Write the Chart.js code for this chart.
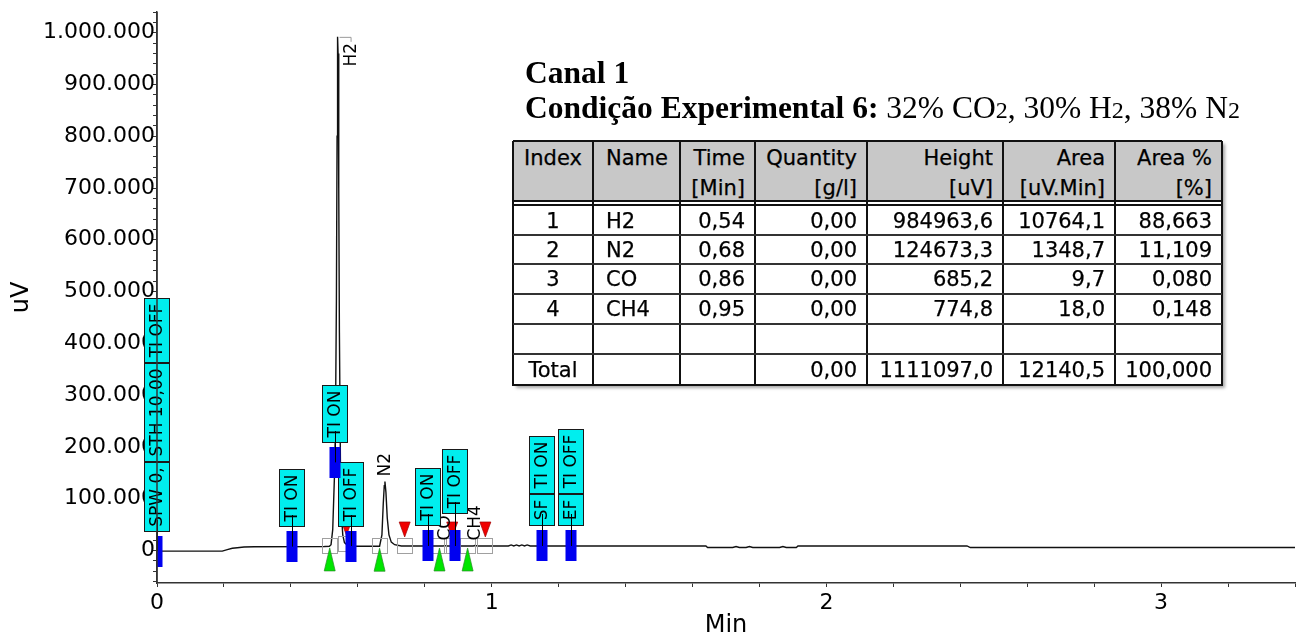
<!DOCTYPE html>
<html><head><meta charset="utf-8">
<script src="https://cdn.jsdelivr.net/npm/chart.js@4.4.0/dist/chart.umd.min.js"></script>
<style>
html,body{margin:0;padding:0;background:#fff;}
#wrap{position:relative;width:1298px;height:639px;overflow:hidden;background:#fff;}
#c{position:absolute;left:0;top:0;}
.ttl{position:absolute;left:525px;font-family:"Liberation Serif","Times New Roman",serif;font-size:31.5px;line-height:31px;white-space:nowrap;color:#000;}
.ttl .sub{font-size:24px;}
.cell{position:absolute;box-sizing:border-box;font-family:"DejaVu Sans",sans-serif;font-size:21px;white-space:nowrap;color:#000;overflow:hidden;-webkit-text-stroke:0.25px #000;}
.ln{position:absolute;background:#111;}
</style></head><body>
<div id="wrap">
<canvas id="c" width="1298" height="639"></canvas>
<div class="ttl" style="top:57px;font-weight:bold">Canal 1</div>
<div class="ttl" style="top:92px"><b>Condição Experimental 6:</b> 32% CO<span class="sub">2</span>, 30% H<span class="sub">2</span>, 38% N<span class="sub">2</span></div>
<div id="tbl"></div>
</div>
<script>
// ---------------- DATA ----------------
// chromatogram trace (time in min, signal in uV)
const traceTime = [0, 0.195, 0.21, 0.225, 0.24, 0.26, 0.29, 0.50, 0.515, 0.52, 0.525, 0.53, 0.533, 0.536, 0.538, 0.5395, 0.541, 0.543, 0.545, 0.548, 0.551, 0.555, 0.56, 0.57, 0.585,
  0.665, 0.672, 0.676, 0.679, 0.681, 0.684, 0.688, 0.693, 0.70, 0.71, 0.73,
  0.855, 0.86, 0.867, 0.945, 0.95, 0.958,
  1.05, 1.058, 1.066, 1.074, 1.082, 1.09, 1.098, 1.106, 1.115,
  1.64, 1.645, 1.72, 1.73, 1.74, 1.76, 1.77, 1.78, 1.86, 1.87, 1.88, 1.91, 1.915, 2.42, 2.43, 3.4];
const traceUV = [-1500, -1500, 1500, 4000, 5000, 6500, 7000, 7500, 8000, 11000, 40000, 140000, 230000, 480000, 800000, 992000, 960000, 700000, 420000, 170000, 70000, 30000, 15000, 9500, 8000,
  8000, 30000, 90000, 125000, 133000, 112000, 62000, 30000, 16000, 11000, 8500,
  8500, 9200, 8500, 8500, 9300, 8500,
  8500, 10500, 8500, 10500, 8500, 10500, 8500, 10500, 8500,
  8500, 5500, 5500, 7500, 5500, 5500, 7500, 5500, 5500, 7500, 5500, 5500, 8500, 8500, 5500, 5500];

// integrated peaks
const peakNames = ['H2', 'N2', 'CO', 'CH4'];
const peakTimes = [0.54, 0.68, 0.86, 0.95];
const peakStart = [0.516, 0.665, 0.844, 0.928];
const peakEnd = [0.566, 0.740, 0.882, 0.981];
const peakQuantity = [0.00, 0.00, 0.00, 0.00];
const peakHeight = [984963.6, 124673.3, 685.2, 774.8];
const peakArea = [10764.1, 1348.7, 9.7, 18.0];
const peakAreaPct = [88.663, 11.109, 0.080, 0.148];
const totalRow = {quantity: 0.00, height: 1111097.0, area: 12140.5, areaPct: 100.000};
const tableHeaders = [['Index'], ['Name'], ['Time', '[Min]'], ['Quantity', '[g/l]'], ['Height', '[uV]'], ['Area', '[uV.Min]'], ['Area %', '[%]']];

// integration events
const eventTimes = [0, 0.402, 0.531, 0.581, 0.809, 0.890, 1.150, 1.238];
const eventLabels = [['SPW 0,', 'STH 10,00', 'TI OFF'], ['TI ON'], ['TI ON'], ['TI OFF'], ['TI ON'], ['TI OFF'], ['SF', 'TI ON'], ['EF', 'TI OFF']];

// axis tick labels
const xTickLabels = ['0', '1', '2', '3'];
const yTickLabels = ['0', '100.000', '200.000', '300.000', '400.000', '500.000', '600.000', '700.000', '800.000', '900.000', '1.000.000'];

// ---------------- HELPERS ----------------
function sig(t) {
  for (let i = 1; i < traceTime.length; i++) {
    if (t <= traceTime[i]) {
      const t0 = traceTime[i - 1], t1 = traceTime[i];
      const f = (t - t0) / (t1 - t0);
      return traceUV[i - 1] + f * (traceUV[i] - traceUV[i - 1]);
    }
  }
  return traceUV[traceUV.length - 1];
}
const FONT = '"DejaVu Sans"';

const markerPlugin = {
  id: 'markers',
  afterDatasetsDraw(chart) {
    const {ctx, chartArea} = chart;
    const x = chart.scales.x, y = chart.scales.y;
    const px = t => x.getPixelForValue(t);
    const py = t => y.getPixelForValue(sig(t));
    ctx.save();
    // baseline squares
    ctx.strokeStyle = '#a0a0a0'; ctx.lineWidth = 1;
    peakStart.concat(peakEnd).forEach(t => {
      const X = Math.round(px(t)), Y = Math.round(py(t));
      ctx.strokeRect(X - 7.5, Y - 7.5, 15, 15);
    });
    // start triangles (green)
    peakStart.forEach(t => {
      const X = px(t), Y = py(t);
      ctx.beginPath(); ctx.moveTo(X, Y + 2); ctx.lineTo(X + 5.5, Y + 25); ctx.lineTo(X - 5.5, Y + 25); ctx.closePath();
      ctx.fillStyle = '#00e600'; ctx.fill(); ctx.strokeStyle = '#2a8a2a'; ctx.lineWidth = 0.7; ctx.stroke();
    });
    // end triangles (red)
    peakEnd.forEach(t => {
      const X = px(t), Y = py(t);
      ctx.beginPath(); ctx.moveTo(X - 5.5, Y - 24); ctx.lineTo(X + 5.5, Y - 24); ctx.lineTo(X, Y - 9); ctx.closePath();
      ctx.fillStyle = '#f00000'; ctx.fill(); ctx.strokeStyle = '#a00000'; ctx.lineWidth = 0.7; ctx.stroke();
    });
    // peak name labels
    ctx.font = '17px ' + FONT; ctx.fillStyle = '#000';
    peakNames.forEach((name, i) => {
      let best = -Infinity, bt = peakTimes[i];
      traceTime.forEach((t, j) => { if (t >= peakStart[i] && t <= peakEnd[i] && traceUV[j] > best) { best = traceUV[j]; bt = t; } });
      const ax = px(bt), ay = y.getPixelForValue(best);
      const w = ctx.measureText(name).width;
      let cx = ax, bottom = ay - 5;
      if (bottom - w < chartArea.top) {
        cx = ax + 13; bottom = ay + 6 + w;
        ctx.strokeStyle = '#9a9a9a'; ctx.lineWidth = 1;
        ctx.beginPath(); ctx.moveTo(ax + 2, ay + 0.5); ctx.lineTo(cx + 0.5, ay + 0.5); ctx.lineTo(cx + 0.5, ay + 5); ctx.stroke();
      }
      ctx.save(); ctx.translate(cx, bottom); ctx.rotate(-Math.PI / 2);
      ctx.textAlign = 'left'; ctx.textBaseline = 'middle'; ctx.fillText(name, 0, 1); ctx.restore();
    });
    // events
    let prev = null;
    const drawn = [];
    eventTimes.forEach((t, i) => {
      const X = Math.round(px(t)), Y = py(t);
      let bottom = Math.round(Y - 19.5);
      const left = X - 12.5, right = X + 12.5;
      const hs = eventLabels[i].map(l => Math.round(ctx.measureText(l).width + 11));
      const total = hs.reduce((a, b) => a + b, 0);
      if (prev && left < prev.right + 3 && bottom > prev.top && bottom - total < prev.bottom) bottom -= 12;
      let yb = bottom;
      eventLabels[i].forEach((l, k) => {
        const h = hs[k];
        ctx.fillStyle = '#00eeee'; ctx.fillRect(left, yb - h, 25, h);
        ctx.strokeStyle = '#1a1a1a'; ctx.lineWidth = 1; ctx.strokeRect(left, yb - h + 0.5, 25, h - 1);
        ctx.save(); ctx.translate(X + 1, yb - h / 2); ctx.rotate(-Math.PI / 2);
        ctx.fillStyle = '#000'; ctx.textAlign = 'center'; ctx.textBaseline = 'middle'; ctx.fillText(l, 0, 0); ctx.restore();
        yb -= h;
      });
      prev = {left, right, top: yb, bottom};
      drawn.push({X, Y, bottom});
    });
    // blue event bars (clipped to plot area) and event lines
    ctx.save();
    ctx.beginPath(); ctx.rect(chartArea.left, chartArea.top, chartArea.right - chartArea.left, chartArea.bottom - chartArea.top); ctx.clip();
    drawn.forEach(d => { ctx.fillStyle = '#0000f0'; ctx.fillRect(d.X - 5.5, Math.round(d.Y - 15.5), 11, 31); });
    ctx.restore();
    ctx.strokeStyle = '#000'; ctx.lineWidth = 1;
    drawn.forEach(d => { ctx.beginPath(); ctx.moveTo(d.X + 0.5, d.Y); ctx.lineTo(d.X + 0.5, d.bottom - 12); ctx.stroke(); });
    // y axis line on top
    ctx.strokeStyle = '#333'; ctx.lineWidth = 1.5;
    ctx.beginPath(); ctx.moveTo(chartArea.left, chartArea.top); ctx.lineTo(chartArea.left, chartArea.bottom); ctx.stroke();
    ctx.restore();
  }
};

new Chart(document.getElementById('c'), {
  type: 'line',
  data: {datasets: [{data: traceTime.map((t, i) => ({x: t, y: traceUV[i]})), borderColor: '#111', borderWidth: 1.4, pointRadius: 0, tension: 0, fill: false}]},
  options: {
    responsive: false, animation: false, devicePixelRatio: 1,
    layout: {padding: {top: 12, right: 1, left: 0, bottom: 0}},
    plugins: {legend: {display: false}, tooltip: {enabled: false}, title: {display: false}},
    scales: {
      x: {
        type: 'linear', min: 0, max: 3.4,
        afterBuildTicks: s => { const a = []; for (let k = 0; k <= 17; k++) a.push({value: Math.round(k * 0.2 * 1000) / 1000}); s.ticks = a; },
        afterFit: s => { s.height = 56; },
        ticks: {autoSkip: false, maxRotation: 0, color: '#000', padding: 3, font: {family: FONT, size: 22},
          callback: v => { const k = Math.round(v); return (Math.abs(v - k) < 1e-6 && k < xTickLabels.length) ? xTickLabels[k] : ''; }},
        grid: {drawOnChartArea: false, drawTicks: true, tickLength: 4, color: '#333'},
        border: {display: true, color: '#333', width: 1.5},
        title: {display: true, text: 'Min', color: '#000', font: {family: FONT, size: 24, lineHeight: 1}, padding: {top: 0, bottom: 1}}
      },
      y: {
        type: 'linear', min: -63000, max: 1040000,
        afterBuildTicks: s => { const a = []; for (let v = -60000; v <= 1040000; v += 20000) a.push({value: v}); s.ticks = a; },
        afterFit: s => { s.width = 157; },
        ticks: {autoSkip: false, color: '#000', padding: -2, font: {family: FONT, size: 22},
          callback: v => { const k = Math.round(v / 100000); return (Math.abs(v - k * 100000) < 1 && k >= 0 && k < yTickLabels.length) ? yTickLabels[k] : ''; }},
        grid: {drawOnChartArea: false, drawTicks: true, tickLength: 4, color: '#333'},
        border: {display: true, color: '#333', width: 1.5},
        title: {display: true, text: 'uV', color: '#000', font: {family: FONT, size: 24, lineHeight: 1}, padding: {top: 10, bottom: 0}}
      }
    }
  },
  plugins: [markerPlugin]
});

// ---------------- TABLE ----------------
(function () {
  const tbl = document.getElementById('tbl');
  const colX = [513, 593, 680, 755, 867, 1003, 1115, 1222];
  const headTop = 141, headBot = 200;
  const rowEdges = [206, 235, 264, 294, 324, 354, 385];
  const fmt = (v, d) => (v === null || v === undefined) ? '' : v.toFixed(d).replace('.', ',');
  const add = (html, css) => { const d = document.createElement('div'); d.className = css.cls || 'cell'; Object.assign(d.style, css.st); d.innerHTML = html; tbl.appendChild(d); };
  // frame + shadow
  add('', {cls: 'ln', st: {left: colX[0] + 'px', top: headTop + 'px', width: (colX[7] - colX[0]) + 'px', height: (rowEdges[6] - headTop) + 'px', background: '#fff', boxShadow: '3px 3px 3px rgba(0,0,0,0.35)'}});
  add('', {cls: 'ln', st: {left: colX[0] + 'px', top: headTop + 'px', width: (colX[7] - colX[0]) + 'px', height: (headBot - headTop) + 'px', background: '#c8c8c8'}});
  const align = (c, px0, px1) => c === 0 ? {left: px0 + 'px', width: (px1 - px0) + 'px', textAlign: 'center'} :
    c === 1 ? {left: (px0 + 13) + 'px', width: (px1 - px0 - 13) + 'px', textAlign: 'left'} :
      {left: px0 + 'px', width: (px1 - px0 - 10) + 'px', textAlign: 'right'};
  // header text
  tableHeaders.forEach((h, c) => {
    add(h.join('<br>'), {st: Object.assign({top: (headTop + 2) + 'px', height: (headBot - headTop - 2) + 'px', lineHeight: '30px'}, align(c, colX[c], colX[c + 1]))});
  });
  // body rows
  const rows = peakNames.map((n, i) => [String(i + 1), n, fmt(peakTimes[i], 2), fmt(peakQuantity[i], 2), fmt(peakHeight[i], 1), fmt(peakArea[i], 1), fmt(peakAreaPct[i], 3)]);
  rows.push(['', '', '', '', '', '', '']);
  rows.push(['Total', '', '', fmt(totalRow.quantity, 2), fmt(totalRow.height, 1), fmt(totalRow.area, 1), fmt(totalRow.areaPct, 3)]);
  rows.forEach((r, ri) => {
    const t0 = rowEdges[ri], t1 = rowEdges[ri + 1];
    r.forEach((txt, c) => {
      add(txt, {st: Object.assign({top: t0 + 'px', height: (t1 - t0) + 'px', lineHeight: (t1 - t0 + 1) + 'px'}, align(c, colX[c], colX[c + 1]))});
    });
  });
  // lines
  colX.forEach(cx => add('', {cls: 'ln', st: {left: (cx - 1) + 'px', top: headTop + 'px', width: '2px', height: (rowEdges[6] - headTop + 1) + 'px'}}));
  add('', {cls: 'ln', st: {left: colX[0] + 'px', top: (headTop - 1) + 'px', width: (colX[7] - colX[0]) + 'px', height: '2px'}});
  add('', {cls: 'ln', st: {left: colX[0] + 'px', top: headBot + 'px', width: (colX[7] - colX[0]) + 'px', height: '2px'}});
  add('', {cls: 'ln', st: {left: colX[0] + 'px', top: (headBot + 4) + 'px', width: (colX[7] - colX[0]) + 'px', height: '2px'}});
  rowEdges.slice(1, 6).forEach(ry => add('', {cls: 'ln', st: {left: colX[0] + 'px', top: (ry - 1) + 'px', width: (colX[7] - colX[0]) + 'px', height: '1.5px', background: '#333'}}));
  add('', {cls: 'ln', st: {left: colX[0] + 'px', top: (rowEdges[6] - 1) + 'px', width: (colX[7] - colX[0] + 1) + 'px', height: '2px'}});
})();
</script>
</body></html>
